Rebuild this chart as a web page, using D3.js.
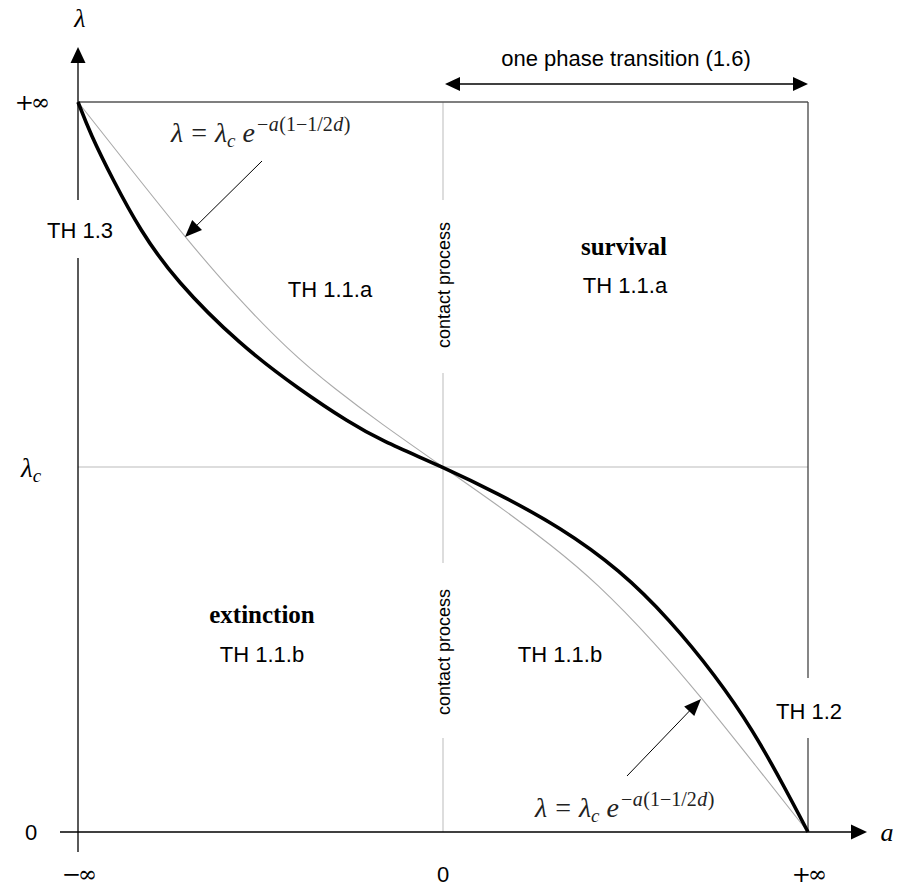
<!DOCTYPE html>
<html>
<head>
<meta charset="utf-8">
<script src="https://cdn.jsdelivr.net/npm/d3@7"></script>
<style>
  body { margin: 0; background: #fff; }
  svg { display: block; }
</style>
</head>
<body>
<div id="chart"></div>
<script>
// critical curve (thick): normalised a-position vs normalised lambda-position
const criticalA = [0, 0.0164, 0.0479, 0.0849, 0.1329, 0.2219, 0.3041, 0.3726, 0.4137, 0.5,
  0.574, 0.6603, 0.7425, 0.811, 0.8726, 0.9247, 0.9699, 1]
const criticalLambda = [1, 0.9575, 0.8932, 0.8247, 0.7562, 0.6671, 0.6055, 0.5603, 0.537, 0.5,
  0.4644, 0.4178, 0.3589, 0.2904, 0.2151, 0.1397, 0.0575, 0]

// bound lambda = lambda_c e^{-a(1-1/2d)} (thin grey)
const boundA = [0, 0.0712, 0.1466, 0.2082, 0.2904, 0.3521, 0.4137, 0.5,
  0.5863, 0.6479, 0.7096, 0.7918, 0.8534, 0.9288, 1]
const boundLambda = [1, 0.9096, 0.8151, 0.7425, 0.6575, 0.6068, 0.5603, 0.5,
  0.4397, 0.3932, 0.3425, 0.2575, 0.1849, 0.0904, 0]

const xTickValues = [0, 0.5, 1]
const xTickLabels = ['\u2212\u221e', '0', '+\u221e']
const yTickValues = [0, 0.5, 1]
const yTickLabels = ['0', '\u03bbc', '+\u221e']

const width = 898
const height = 888

const x = d3.scaleLinear().domain([0, 1]).range([78, 808])
const y = d3.scaleLinear().domain([0, 1]).range([832, 102])

const sansFont = '"Liberation Sans", Arial, sans-serif'
const mathFont = '"Liberation Serif", "Times New Roman", serif'
const infFont = '"DejaVu Serif", serif'

const svg = d3.select('#chart').append('svg')
  .attr('width', width)
  .attr('height', height)

function arrowHead(g, tipX, tipY, angle, len = 16, half = 7) {
  // angle: direction the arrow points to, in degrees
  g.append('path')
    .attr('d', `M0,0 L${-len},${-half} L${-len},${half} Z`)
    .attr('transform', `translate(${tipX},${tipY}) rotate(${angle})`)
    .attr('fill', '#000')
}

function vline(xp, segs, color, w) {
  segs.forEach(s => {
    svg.append('line')
      .attr('x1', xp).attr('x2', xp)
      .attr('y1', s[0]).attr('y2', s[1])
      .attr('stroke', color).attr('stroke-width', w)
  })
}

function hline(yp, segs, color, w) {
  segs.forEach(s => {
    svg.append('line')
      .attr('y1', yp).attr('y2', yp)
      .attr('x1', s[0]).attr('x2', s[1])
      .attr('stroke', color).attr('stroke-width', w)
  })
}

// grey cross at a = 0, lambda = lambda_c
vline(x(0.5), [[y(1), 200], [373, 563], [738, y(0)]], '#bbb', 1)
hline(y(0.5), [[x(0), x(1)]], '#bbb', 1)

// box
hline(y(1), [[x(0), x(1)]], '#555', 1.3)
vline(x(1), [[y(1), 678], [738, y(0)]], '#444', 1.3)

// axes
vline(x(0), [[852, 258], [200, 62]], '#000', 1.3)
arrowHead(svg, x(0), 47, -90, 16, 7.5)
hline(y(0), [[60, 852]], '#000', 1.3)
arrowHead(svg, 867, y(0), 0, 16, 7.5)

// curves
const line = d3.line()
  .x(d => x(d[0]))
  .y(d => y(d[1]))
  .curve(d3.curveBasis)

svg.append('path')
  .datum(boundA.map((a, i) => [a, boundLambda[i]]))
  .attr('d', line)
  .attr('fill', 'none')
  .attr('stroke', '#aaa')
  .attr('stroke-width', 1.1)

svg.append('path')
  .datum(criticalA.map((a, i) => [a, criticalLambda[i]]))
  .attr('d', line)
  .attr('fill', 'none')
  .attr('stroke', '#000')
  .attr('stroke-width', 3.6)

// tick labels
xTickValues.forEach((v, i) => {
  const lab = xTickLabels[i]
  svg.append('text')
    .attr('x', x(v))
    .attr('y', 882)
    .attr('text-anchor', 'middle')
    .attr('font-size', lab === '0' ? 22 : 23)
    .attr('font-family', lab === '0' ? sansFont : infFont)
    .attr('letter-spacing', lab === '0' ? 0 : -3)
    .text(lab)
})

yTickValues.forEach((v, i) => {
  const lab = yTickLabels[i]
  const t = svg.append('text')
    .attr('x', 31)
    .attr('y', y(v) + 8)
    .attr('text-anchor', 'middle')
    .attr('font-size', 22)
  if (lab === '0') {
    t.attr('font-family', sansFont).text(lab)
  } else if (lab === '\u03bbc') {
    t.attr('font-family', mathFont).attr('font-style', 'italic').attr('font-size', 27)
      .attr('y', y(v) + 10)
    t.append('tspan').text('\u03bb')
    t.append('tspan').attr('font-size', 19).attr('dy', 5).text('c')
  } else {
    t.attr('font-family', infFont).attr('font-size', 23).attr('letter-spacing', -3).text(lab)
  }
})

// axis names
svg.append('text')
  .attr('x', 80).attr('y', 27)
  .attr('text-anchor', 'middle')
  .attr('font-family', mathFont)
  .attr('font-style', 'italic')
  .attr('font-size', 26)
  .text('\u03bb')

svg.append('text')
  .attr('x', 887).attr('y', 841)
  .attr('text-anchor', 'middle')
  .attr('font-family', mathFont)
  .attr('font-style', 'italic')
  .attr('font-size', 26)
  .text('a')

// sans labels
const labels = [
  { text: 'one phase transition (1.6)', x: 626, y: 66 },
  { text: 'TH 1.3', x: 80, y: 238 },
  { text: 'TH 1.2', x: 809, y: 719 },
  { text: 'TH 1.1.a', x: 330, y: 297 },
  { text: 'TH 1.1.a', x: 625, y: 293 },
  { text: 'TH 1.1.b', x: 262, y: 662 },
  { text: 'TH 1.1.b', x: 560, y: 662 }
]
labels.forEach(l => {
  svg.append('text')
    .attr('x', l.x).attr('y', l.y)
    .attr('text-anchor', 'middle')
    .attr('font-family', sansFont)
    .attr('font-size', 22)
    .attr('fill', '#000')
    .text(l.text)
})

const bold = [
  { text: 'survival', x: 624, y: 255 },
  { text: 'extinction', x: 262, y: 623 }
]
bold.forEach(l => {
  svg.append('text')
    .attr('x', l.x).attr('y', l.y)
    .attr('text-anchor', 'middle')
    .attr('font-family', mathFont)
    .attr('font-size', 25)
    .attr('font-weight', 'bold')
    .text(l.text)
})

// contact process (vertical)
;[285, 652].forEach(cy => {
  svg.append('text')
    .attr('transform', `translate(${x(0.5) + 6.5},${cy}) rotate(-90)`)
    .attr('text-anchor', 'middle')
    .attr('font-family', sansFont)
    .attr('font-size', 18)
    .text('contact process')
})

// top double arrow
hline(84, [[455, 798]], '#000', 1.3)
arrowHead(svg, 445, 84, 180, 15, 7)
arrowHead(svg, 808, 84, 0, 15, 7)

// formula labels
function formula(px, py) {
  const t = svg.append('text')
    .attr('x', px).attr('y', py)
    .attr('font-family', mathFont)
    .attr('font-size', 28)
    .attr('fill', '#222')
  t.append('tspan').attr('font-style', 'italic').text('\u03bb')
  t.append('tspan').attr('dx', 8).text('=')
  t.append('tspan').attr('dx', 8).attr('font-style', 'italic').text('\u03bb')
  t.append('tspan').attr('font-style', 'italic').attr('font-size', 19).attr('dy', 5).text('c')
  t.append('tspan').attr('font-style', 'italic').attr('dy', -5).attr('dx', 7).text('e')
  const sup = [['\u2212', 'normal'], ['a', 'italic'], ['(1\u22121/2', 'normal'], ['d', 'italic'], [')', 'normal']]
  sup.forEach((s, i) => {
    t.append('tspan')
      .attr('font-size', 20)
      .attr('font-style', s[1])
      .attr('dy', i === 0 ? -11 : 0)
      .attr('dx', i === 0 ? 2 : 0.5)
      .text(s[0])
  })
}
formula(171, 142)
formula(535, 817)

// pointer arrows to the bound curve
function pointer(x1, y1, x2, y2) {
  const ang = Math.atan2(y2 - y1, x2 - x1)
  svg.append('line')
    .attr('x1', x1).attr('y1', y1)
    .attr('x2', x2 - Math.cos(ang) * 12).attr('y2', y2 - Math.sin(ang) * 12)
    .attr('stroke', '#000').attr('stroke-width', 1)
  arrowHead(svg, x2, y2, ang * 180 / Math.PI, 17, 7)
}
pointer(262, 161, 185, 237)
pointer(627, 776, 701, 699)
</script>
</body>
</html>
